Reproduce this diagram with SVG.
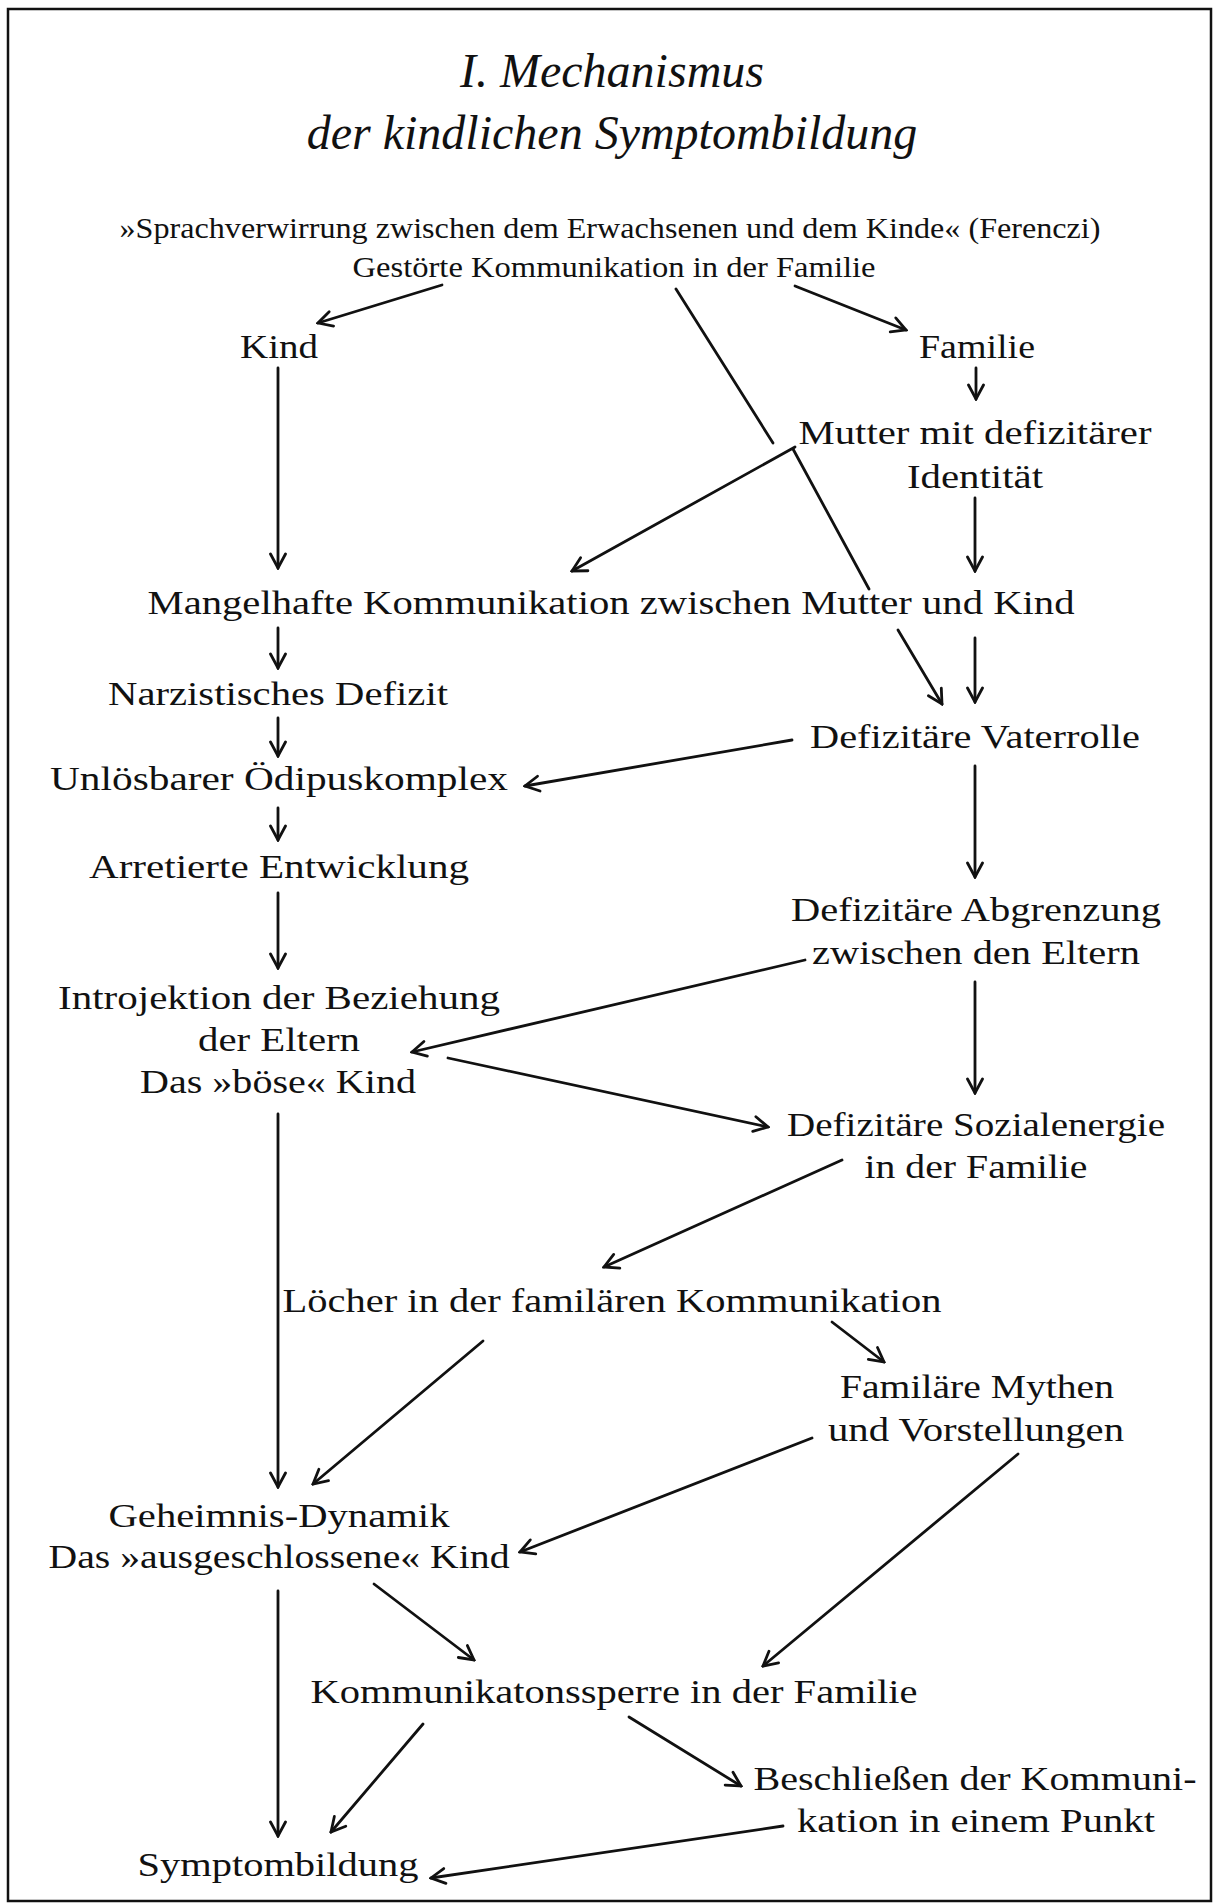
<svg xmlns="http://www.w3.org/2000/svg" width="1215" height="1903" viewBox="0 0 1215 1903">
<style>
text{font-family:"Liberation Serif","Times New Roman",serif;fill:#111;text-anchor:middle}
.t{font-style:italic;font-size:48px}
.s{font-size:29px}
.b{font-size:34px}
.c line{stroke:#111;stroke-width:2.8;stroke-linecap:round}
.a{marker-end:url(#h)}
</style>
<defs>
<marker id="h" viewBox="-16 -10 18 20" markerWidth="18" markerHeight="20" refX="0" refY="0" orient="auto" markerUnits="userSpaceOnUse">
<path d="M-14,-7.5 L0,0 L-14,7.5" fill="none" stroke="#111" stroke-width="2.8" stroke-linecap="round" stroke-linejoin="miter"/>
</marker>
</defs>
<rect x="0" y="0" width="1215" height="1903" fill="#fff"/>
<rect x="8" y="9" width="1203" height="1892" fill="none" stroke="#111" stroke-width="2.5"/>
<g id="title">
<text class="t" x="612" y="87">I. Mechanismus</text>
<text class="t" x="612" y="149">der kindlichen Symptombildung</text>
</g>
<g id="n-sprach">
<text class="s" x="610" y="238" textLength="981" lengthAdjust="spacingAndGlyphs">»Sprachverwirrung zwischen dem Erwachsenen und dem Kinde« (Ferenczi)</text>
<text class="s" x="614" y="277" textLength="523" lengthAdjust="spacingAndGlyphs">Gestörte Kommunikation in der Familie</text>
</g>
<g id="n-kind"><text class="b" x="279" y="358" textLength="78" lengthAdjust="spacingAndGlyphs">Kind</text></g>
<g id="n-familie"><text class="b" x="977" y="358" textLength="116" lengthAdjust="spacingAndGlyphs">Familie</text></g>
<g id="n-mutter">
<text class="b" x="975" y="444" textLength="353" lengthAdjust="spacingAndGlyphs">Mutter mit defizitärer</text>
<text class="b" x="975" y="488" textLength="136" lengthAdjust="spacingAndGlyphs">Identität</text>
</g>
<g id="n-mangel"><text class="b" x="611" y="614" textLength="927" lengthAdjust="spacingAndGlyphs">Mangelhafte Kommunikation zwischen Mutter und Kind</text></g>
<g id="n-narz"><text class="b" x="278" y="705" textLength="340" lengthAdjust="spacingAndGlyphs">Narzistisches Defizit</text></g>
<g id="n-vater"><text class="b" x="975" y="748" textLength="330" lengthAdjust="spacingAndGlyphs">Defizitäre Vaterrolle</text></g>
<g id="n-oedipus"><text class="b" x="279" y="790" textLength="458" lengthAdjust="spacingAndGlyphs">Unlösbarer Ödipuskomplex</text></g>
<g id="n-arretiert"><text class="b" x="279" y="878" textLength="380" lengthAdjust="spacingAndGlyphs">Arretierte Entwicklung</text></g>
<g id="n-abgrenzung">
<text class="b" x="976" y="921" textLength="370" lengthAdjust="spacingAndGlyphs">Defizitäre Abgrenzung</text>
<text class="b" x="976" y="964" textLength="328" lengthAdjust="spacingAndGlyphs">zwischen den Eltern</text>
</g>
<g id="n-introjektion">
<text class="b" x="279" y="1009" textLength="442" lengthAdjust="spacingAndGlyphs">Introjektion der Beziehung</text>
<text class="b" x="279" y="1051" textLength="162" lengthAdjust="spacingAndGlyphs">der Eltern</text>
<text class="b" x="278" y="1093" textLength="276" lengthAdjust="spacingAndGlyphs">Das »böse« Kind</text>
</g>
<g id="n-sozial">
<text class="b" x="976" y="1136" textLength="378" lengthAdjust="spacingAndGlyphs">Defizitäre Sozialenergie</text>
<text class="b" x="976" y="1178" textLength="223" lengthAdjust="spacingAndGlyphs">in der Familie</text>
</g>
<g id="n-loecher"><text class="b" x="612" y="1312" textLength="659" lengthAdjust="spacingAndGlyphs">Löcher in der familären Kommunikation</text></g>
<g id="n-mythen">
<text class="b" x="977" y="1398" textLength="274" lengthAdjust="spacingAndGlyphs">Familäre Mythen</text>
<text class="b" x="976" y="1441" textLength="296" lengthAdjust="spacingAndGlyphs">und Vorstellungen</text>
</g>
<g id="n-geheimnis">
<text class="b" x="279" y="1527" textLength="341" lengthAdjust="spacingAndGlyphs">Geheimnis-Dynamik</text>
<text class="b" x="279" y="1568" textLength="461" lengthAdjust="spacingAndGlyphs">Das »ausgeschlossene« Kind</text>
</g>
<g id="n-sperre"><text class="b" x="614" y="1703" textLength="607" lengthAdjust="spacingAndGlyphs">Kommunikatonssperre in der Familie</text></g>
<g id="n-beschliessen">
<text class="b" x="975" y="1790" textLength="443" lengthAdjust="spacingAndGlyphs">Beschließen der Kommuni-</text>
<text class="b" x="976" y="1832" textLength="358" lengthAdjust="spacingAndGlyphs">kation in einem Punkt</text>
</g>
<g id="n-symptom"><text class="b" x="278" y="1876" textLength="281" lengthAdjust="spacingAndGlyphs">Symptombildung</text></g>
<g id="connectors" class="c">
<line class="a" x1="442" y1="285" x2="318" y2="323"/>
<line x1="676" y1="289" x2="773" y2="443"/>
<line x1="793" y1="449" x2="869" y2="589"/>
<line class="a" x1="898" y1="630" x2="942" y2="704"/>
<line class="a" x1="795" y1="286" x2="906" y2="330"/>
<line class="a" x1="976" y1="368" x2="976" y2="399"/>
<line class="a" x1="278" y1="368" x2="278" y2="568"/>
<line class="a" x1="795" y1="447" x2="572" y2="571"/>
<line class="a" x1="975" y1="498" x2="975" y2="571"/>
<line class="a" x1="278" y1="628" x2="278" y2="668"/>
<line class="a" x1="975" y1="638" x2="975" y2="702"/>
<line class="a" x1="278" y1="718" x2="278" y2="756"/>
<line class="a" x1="792" y1="740" x2="525" y2="786"/>
<line class="a" x1="975" y1="766" x2="975" y2="877"/>
<line class="a" x1="278" y1="808" x2="278" y2="840"/>
<line class="a" x1="278" y1="893" x2="278" y2="968"/>
<line class="a" x1="805" y1="960" x2="412" y2="1052"/>
<line class="a" x1="448" y1="1058" x2="768" y2="1127"/>
<line class="a" x1="975" y1="982" x2="975" y2="1093"/>
<line class="a" x1="278" y1="1114" x2="278" y2="1487"/>
<line class="a" x1="842" y1="1160" x2="604" y2="1267"/>
<line class="a" x1="483" y1="1341" x2="313" y2="1484"/>
<line class="a" x1="832" y1="1322" x2="884" y2="1362"/>
<line class="a" x1="812" y1="1438" x2="520" y2="1552"/>
<line class="a" x1="1018" y1="1454" x2="763" y2="1666"/>
<line class="a" x1="374" y1="1584" x2="474" y2="1660"/>
<line class="a" x1="278" y1="1591" x2="278" y2="1836"/>
<line class="a" x1="423" y1="1724" x2="331" y2="1832"/>
<line class="a" x1="629" y1="1717" x2="741" y2="1786"/>
<line class="a" x1="783" y1="1826" x2="431" y2="1878"/>
</g>
</svg>
